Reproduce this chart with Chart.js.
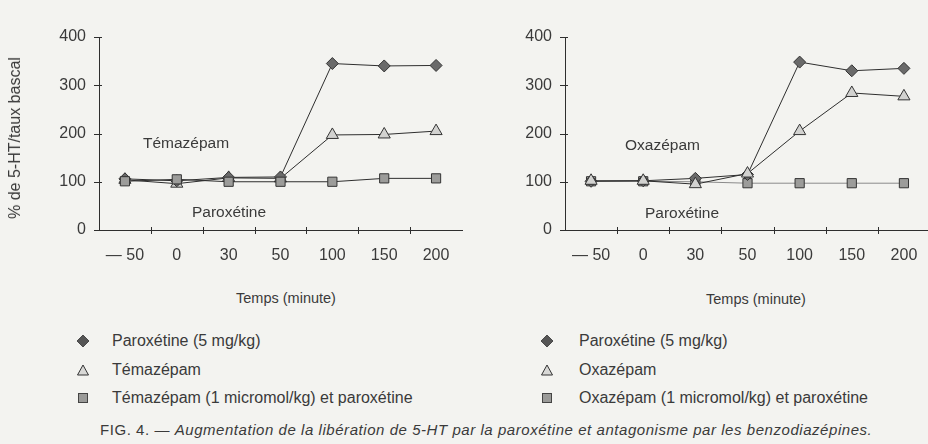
<!DOCTYPE html>
<html>
<head>
<meta charset="utf-8">
<script src="https://cdn.jsdelivr.net/npm/chart.js@4.4.1/dist/chart.umd.min.js"></script>
<style>
  html, body { margin:0; padding:0; width:928px; height:444px; overflow:hidden; background:#f3f3f0; font-family:"Liberation Sans", Arial, sans-serif; color:#3a3a3a; }
  .abs { position:absolute; white-space:nowrap; line-height:1; }
  #c1wrap { position:absolute; left:0; top:0; width:470px; height:270px; }
  #c2wrap { position:absolute; left:470px; top:0; width:468px; height:270px; }
  .ytitle { position:absolute; left:15px; top:138px; transform:translate(-50%,-50%) rotate(-90deg); font-size:16px; white-space:nowrap; }
  .xtitle { font-size:14.5px; transform:translate(-50%,-50%); }
  .ann { font-size:15.5px; transform:translateY(-50%); }
  .leg { font-size:16px; transform:translateY(-50%); }
  .cap { font-size:15px; letter-spacing:0.55px; transform:translateY(-50%); }
  svg.mk { position:absolute; }
</style>
</head>
<body>
<div id="c1wrap"><canvas id="c1"></canvas></div>
<div id="c2wrap"><canvas id="c2"></canvas></div>

<div class="ytitle">% de 5-HT/taux bascal</div>
<div class="abs xtitle" style="left:286px; top:298px;">Temps (minute)</div>
<div class="abs xtitle" style="left:756px; top:299px;">Temps (minute)</div>

<div class="abs ann" style="left:143px; top:143px;">Témazépam</div>
<div class="abs ann" style="left:192px; top:212px;">Paroxétine</div>
<div class="abs ann" style="left:625px; top:145px;">Oxazépam</div>
<div class="abs ann" style="left:645px; top:213px;">Paroxétine</div>

<div id="legends"></div>

<div class="abs cap" style="left:100px; top:429px;">FIG. 4. — <i>Augmentation de la libération de 5-HT par la paroxétine et antagonisme par les benzodiazépines.</i></div>

<script>
// ---- data ----
const categories = ["— 50", "0", "30", "50", "100", "150", "200"];
const yTicks = [0, 100, 200, 300, 400];

const leftParoxetine = [106, 102, 109, 110, 345, 340, 341];
const leftTemazepam  = [104, 96, 108, 107, 197, 198, 205];
const leftTemaParox  = [101, 105, 100, 100, 100, 107, 107];

const rightParoxetine = [101, 102, 107, 115, 348, 330, 335];
const rightOxazepam   = [102, 102, 95, 117, 205, 284, 277];
const rightOxaParox   = [101, 101, 100, 97, 97, 97, 97];

const leftLabels  = ["Paroxétine (5 mg/kg)", "Témazépam", "Témazépam (1 micromol/kg) et paroxétine"];
const rightLabels = ["Paroxétine (5 mg/kg)", "Oxazépam", "Oxazépam (1 micromol/kg) et paroxétine"];

// ---- styles ----
const INK = '#2e2e2e';
const TXT = '#3a3a3a';
const FONT = '"Liberation Sans", Arial, sans-serif';

const crossTicks = {
  id: 'crossTicks',
  afterDraw(chart) {
    const ctx = chart.ctx;
    const x = chart.scales.x, y = chart.scales.y;
    ctx.save();
    ctx.strokeStyle = INK;
    ctx.lineWidth = 1;
    ctx.beginPath();
    for (let i = 1; i < x.ticks.length; i++) {
      const px = Math.round((x.getPixelForTick(i - 1) + x.getPixelForTick(i)) / 2) + 0.5;
      ctx.moveTo(px, y.bottom - 3);
      ctx.lineTo(px, y.bottom + 4);
    }
    yTicks.forEach(v => {
      const py = Math.round(y.getPixelForValue(v)) + 0.5;
      ctx.moveTo(x.left - 5, py);
      ctx.lineTo(x.left + 3, py);
    });
    ctx.stroke();
    ctx.restore();
  }
};

function ds(data, style, order, lineColor) {
  const s = {
    diamond:  {pointStyle:'rectRot', radius:6, bg:'#6a6a6a'},
    triangle: {pointStyle:'triangle', radius:7, bg:'#d2d2d0'},
    square:   {pointStyle:'rect', radius:6.5, bg:'#9c9c9a'}
  }[style];
  return {
    data: data,
    order: order,
    borderColor: lineColor || INK,
    borderWidth: 1,
    pointStyle: s.pointStyle,
    pointRadius: s.radius,
    pointBackgroundColor: s.bg,
    pointBorderColor: '#333',
    pointBorderWidth: 1,
    tension: 0
  };
}

function makeChart(id, sets, yWidth, padRight) {
  return new Chart(document.getElementById(id), {
    type: 'line',
    data: { labels: categories, datasets: sets },
    plugins: [crossTicks],
    options: {
      responsive: true,
      maintainAspectRatio: false,
      animation: false,
      layout: { padding: { top: 37, right: padRight, bottom: 0, left: 0 } },
      plugins: { legend: { display: false }, tooltip: { enabled: false } },
      scales: {
        x: {
          offset: true,
          grid: { display: false, drawOnChartArea: false },
          border: { display: true, color: INK, width: 1 },
          ticks: { color: TXT, font: { family: FONT, size: 16 }, padding: 8, maxRotation: 0 },
          afterFit(scale) { scale.height = 40; }
        },
        y: {
          min: 0, max: 400,
          grid: { display: false, drawOnChartArea: false },
          border: { display: true, color: INK, width: 1 },
          ticks: { stepSize: 100, color: TXT, font: { family: FONT, size: 16 }, padding: 5 },
          afterFit(scale) { scale.width = yWidth; }
        }
      }
    }
  });
}

makeChart('c1', [
  ds(leftParoxetine, 'diamond', 1),
  ds(leftTemazepam, 'triangle', 2),
  ds(leftTemaParox, 'square', 0)
], 99, 5);

makeChart('c2', [
  ds(rightParoxetine, 'diamond', 1),
  ds(rightOxazepam, 'triangle', 0),
  ds(rightOxaParox, 'square', 2, '#8a8a8a')
], 95, 0);

// ---- legends ----
function marker(kind) {
  if (kind === 0) return '<svg class="mk" width="14" height="14" viewBox="0 0 14 14"><polygon points="7,1 13,7 7,13 1,7" fill="#555" stroke="#333" stroke-width="0.8"/></svg>';
  if (kind === 1) return '<svg class="mk" width="14" height="14" viewBox="0 0 14 14"><polygon points="7,2 12.5,12 1.5,12" fill="#d8d8d6" stroke="#333" stroke-width="1"/></svg>';
  return '<svg class="mk" width="14" height="14" viewBox="0 0 14 14"><rect x="2.5" y="2.5" width="9" height="9" fill="#9a9a98" stroke="#444" stroke-width="1"/></svg>';
}
const legRows = [341, 370, 398];
let html = '';
[[leftLabels, 76, 112], [rightLabels, 540, 579]].forEach(([labels, mx, tx]) => {
  labels.forEach((t, i) => {
    html += '<div class="abs" style="left:' + mx + 'px; top:' + (legRows[i] - 7) + 'px;">' + marker(i) + '</div>';
    html += '<div class="abs leg" style="left:' + tx + 'px; top:' + legRows[i] + 'px;">' + t + '</div>';
  });
});
document.getElementById('legends').innerHTML = html;
</script>
</body>
</html>
